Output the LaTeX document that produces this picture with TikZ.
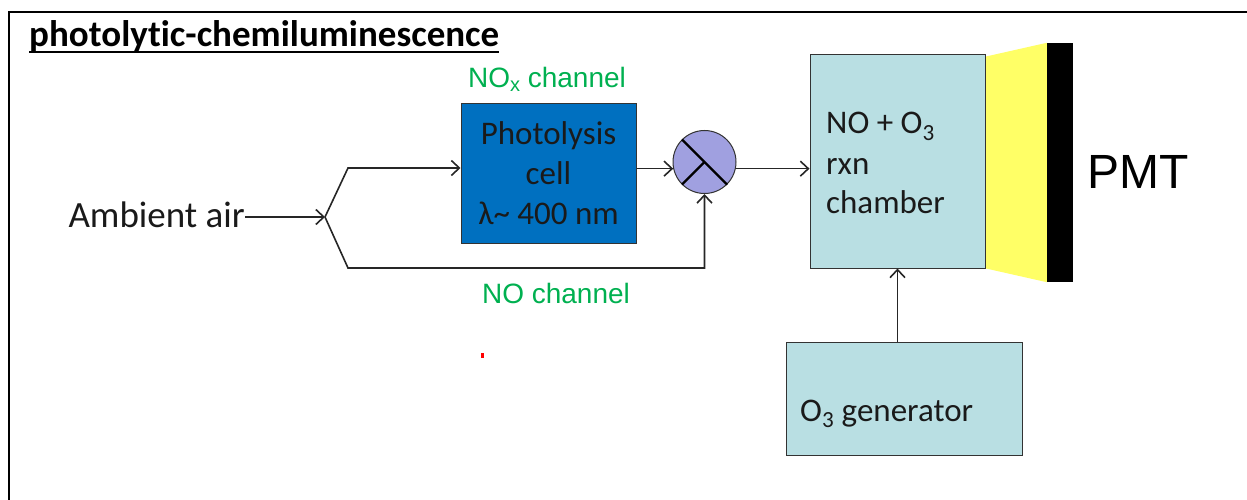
\documentclass[tikz,border=0pt]{standalone}
\usepackage{fontspec}
\setmainfont[Ligatures={TeX,NoCommon}]{Carlito}
\newfontfamily\arialf{Liberation Sans}
\usetikzlibrary{arrows.meta,calc}
\definecolor{boxblue}{HTML}{0070C0}
\definecolor{sumfill}{HTML}{A0A0E0}
\definecolor{tealfill}{HTML}{B9DFE3}
\definecolor{pmtyellow}{HTML}{FFFF66}
\definecolor{chgreen}{HTML}{00B050}
\definecolor{txtdark}{HTML}{1A1A1A}
\begin{document}
\begin{tikzpicture}[x=1pt,y=-1pt,
  conn/.style={line width=1.6pt, draw=black!85},
  arr/.style={conn, -{Straight Barb[length=8pt,width=15pt,line width=1.6pt]}},
  blk/.style={draw=black!80, line width=1pt, inner sep=0pt},
  bodytext/.style={font=\fontsize{33}{40}\selectfont, text=txtdark, inner sep=0pt},
  chlabel/.style={font=\arialf\fontsize{28}{32}\selectfont, text=chgreen, inner sep=0pt}]
\useasboundingbox (0,0) rectangle (1247,500);
% frame
\draw[line width=1.5pt] (9,500) -- (9,12) -- (1247,12);
% title
\node[anchor=base west, inner sep=0pt, font=\bfseries\fontsize{37}{44}\selectfont] (title) at (29,47) {photolytic-chemiluminescence};
\draw[line width=1.5pt] ($(title.base west)+(0,5)$) -- ($(title.base east)+(0,5)$);
% ambient air
\node[bodytext, font=\fontsize{37}{44}\selectfont, anchor=base east] (air) at (245,227) {Ambient air};
\coordinate (split) at (325,217);
\coordinate (up) at (348,168);
\coordinate (lo) at (348,268);
% photolysis cell
\node[blk, fill=boxblue, minimum width=175pt, minimum height=139pt, align=center, bodytext] (photo) at (548.5,173.5) {Photolysis\\cell\\λ\textasciitilde{} 400 nm};
\node[chlabel, anchor=base] (noxlab) at (547,88) {NO\raisebox{-4pt}{\fontsize{20}{20}\selectfont x} channel};
\node[chlabel, anchor=base] (nolab) at (556,303) {NO channel};
% summing junction
\node[circle, draw=black!80, line width=1pt, fill=sumfill, minimum size=63pt, inner sep=0pt] (sum) at (704.5,162) {};
\draw[line width=2.2pt] (sum.135) -- (sum.-45);
\draw[line width=2.2pt] (sum.225) -- (sum.center);
% chamber
\node[blk, fill=tealfill, minimum width=175pt, minimum height=213pt] (chamber) at (897.5,161.5) {};
\node[bodytext, anchor=base west] (ch1) at (826,134) {NO + O\textsubscript{3}};
\node[bodytext, anchor=base west] (ch2) at (826,174) {rxn};
\node[bodytext, anchor=base west] (ch3) at (826,213) {chamber};
% PMT
\node[fill=black, minimum width=26pt, minimum height=239pt, inner sep=0pt] (pmt) at (1060,162.5) {};
\fill[pmtyellow] ($(chamber.north east)+(0.5,2)$) -- (pmt.north west) -- (pmt.south west) -- ($(chamber.south east)+(0.5,0)$) -- cycle;
\node[font=\arialf\fontsize{48}{48}\selectfont, anchor=west, inner sep=0pt] (pmtlab) at (1087,172) {PMT};
% O3 generator
\node[blk, fill=tealfill, minimum width=236pt, minimum height=113pt] (gen) at (904,398.5) {};
\node[bodytext, anchor=base west] (genlab) at (800,421) {O\textsubscript{3} generator};
% connectors
\draw[arr] (air.east |- split) -- (split);
\draw[arr] (split) -- (up) -- (photo.west |- up);
\draw[arr] (split) -- (lo) -- (lo -| sum.south) -- (sum.south);
\draw[arr] (photo.east |- sum.192) -- (sum.192);
\draw[arr] (sum.-12) -- (chamber.west |- sum.-12);
\draw[arr] (chamber.south |- gen.north) -- (chamber.south);
% stray red mark
\fill[red] (481,353) rectangle (484,358);
\end{tikzpicture}
\end{document}
